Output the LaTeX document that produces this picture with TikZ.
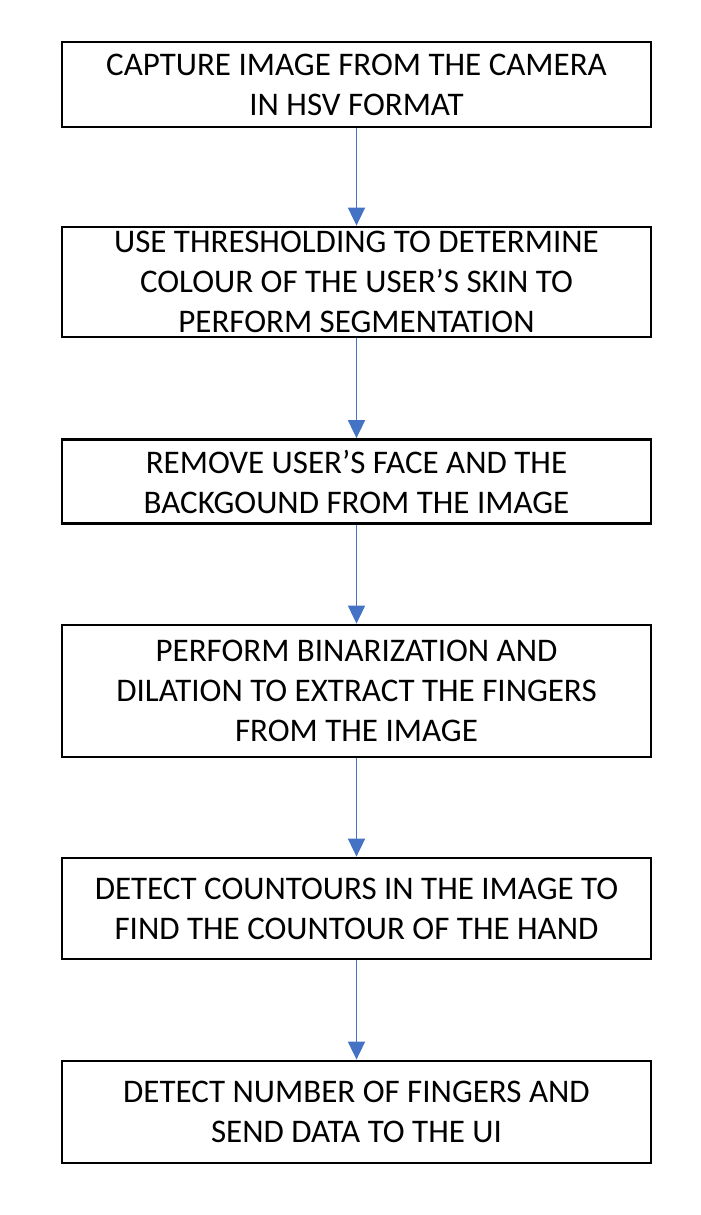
\documentclass[tikz,border=0pt]{standalone}
\usepackage{fontspec}
\setmainfont{Carlito}
\usetikzlibrary{arrows.meta}
\definecolor{flowblue}{RGB}{68,114,196}
\begin{document}
\begin{tikzpicture}[x=1pt, y=-1pt,
        stepbox/.style={draw=black, line width=2.8pt, minimum width=589pt, inner sep=0pt,
            align=center, font=\fontsize{33}{40}\selectfont},
        flowarrow/.style={flowblue, line width=1.8pt, -{Triangle[width=17pt,length=18pt]}}]
        \useasboundingbox (0,0) rectangle (701,1215);

        \node[stepbox, minimum height=85pt] (capture) at (356.5,84.5) {CAPTURE IMAGE FROM THE CAMERA\\IN HSV FORMAT};
        \node[stepbox, minimum height=110pt] (threshold) at (356.5,282) {USE THRESHOLDING TO DETERMINE\\COLOUR OF THE USER’S SKIN TO\\PERFORM SEGMENTATION};
        \node[stepbox, minimum height=84pt] (remove) at (356.5,481.5) {REMOVE USER’S FACE AND THE\\BACKGOUND FROM THE IMAGE};
        \node[stepbox, minimum height=132pt] (binarize) at (356.5,691) {PERFORM BINARIZATION AND\\DILATION TO EXTRACT THE FINGERS\\FROM THE IMAGE};
        \node[stepbox, minimum height=101pt] (contour) at (356.5,908.5) {DETECT COUNTOURS IN THE IMAGE TO\\FIND THE COUNTOUR OF THE HAND};
        \node[stepbox, minimum height=102pt] (count) at (356.5,1112) {DETECT NUMBER OF FINGERS AND\\SEND DATA TO THE UI};

        %\draw[flowarrow] (capture) -- (threshold);
        \draw[flowarrow] (capture.south) -- (threshold.north);
        \draw[flowarrow] (threshold.south) -- (remove.north);
        \draw[flowarrow] (remove.south) -- (binarize.north);
        \draw[flowarrow] (binarize.south) -- (contour.north);
        \draw[flowarrow] (contour.south) -- (count.north);
    \end{tikzpicture}
\end{document}
